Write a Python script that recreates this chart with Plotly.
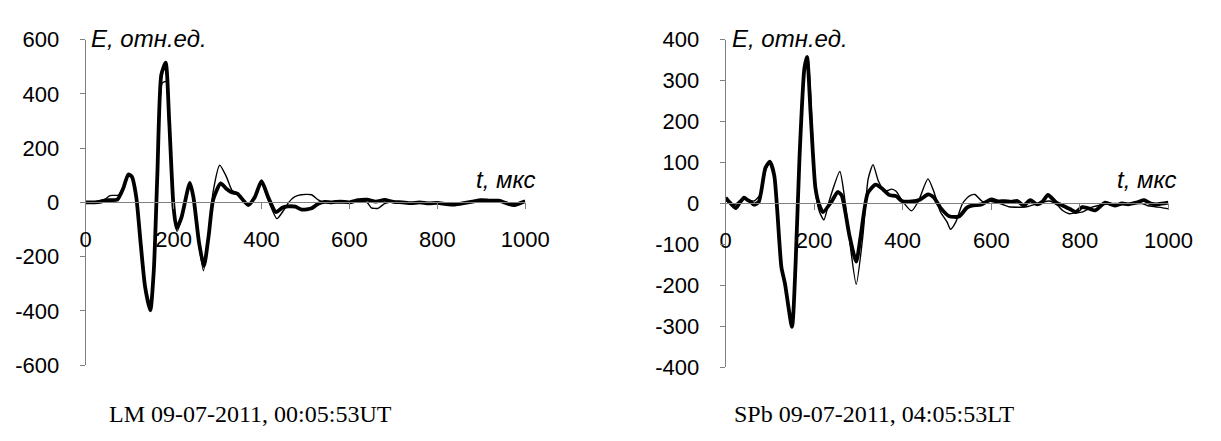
import plotly.graph_objects as go

# ---------------- data ----------------
# Left panel: LM 09-07-2011, 00:05:53UT
lm_thick_t = [0, 20, 35, 45, 60, 72, 85, 97, 105, 115, 125, 135, 147, 155, 163, 172, 182, 190, 200, 207,
              218, 237, 245, 258, 269, 280, 290, 307, 320, 332, 345, 370, 385, 400, 415, 433, 447, 460, 477,
              492, 514, 529, 544, 560, 580, 600, 620, 640, 660, 680, 700, 720, 740, 760, 780, 800, 820, 840,
              860, 880, 900, 920, 940, 960, 975, 990, 1000]
lm_thick_e = [0, 0, 3, 7, 8, 10, 50, 103, 95, 20, -150, -310, -398, -250, 100, 470, 515, 300, -20, -95,
              -55, 72, 20, -150, -235, -120, 10, 70, 50, 37, 32, -10, 20, 78, 20, -36, -20, -15, -16,
              -27, -22, -5, 2, 0, 3, 0, 8, 10, 3, 9, 2, 0, -3, 0, -4, -2, -6, -8,
              -3, 3, 8, 6, 6, -5, -10, -2, 4]

lm_thin_t = [0, 20, 35, 45, 55, 75, 85, 97, 105, 115, 125, 133, 147, 155, 163, 174, 183, 192, 200, 208,
             218, 237, 247, 258, 268, 280, 290, 305, 320, 333, 345, 370, 385, 400, 415, 435, 450, 462, 475,
             490, 514, 530, 545, 560, 580, 600, 620, 640, 650, 665, 680, 700, 720, 740, 760, 780, 800, 820,
             840, 860, 880, 900, 920, 940, 960, 975, 990, 1000]
lm_thin_e = [0, 2, 8, 12, 25, 27, 55, 100, 92, 15, -160, -292, -390, -240, 80, 440, 445, 230, -30, -107,
             -60, 70, 10, -160, -252, -110, 40, 137, 95, 44, 34, -8, 25, 75, 10, -60, -30, 0, 20,
             28, 28, 8, 0, 2, -2, 2, 5, 0, -20, -22, -5, 3, -2, -4, -2, 0, -3, -5,
             -5, 0, 2, 4, 5, 3, 0, -6, 0, 3]

# Right panel: SPb 09-07-2011, 04:05:53LT
spb_thick_t = [0, 10, 23, 32, 42, 50, 57, 64, 75, 90, 100, 110, 126, 134, 150, 158, 167, 178, 184, 192,
               203, 212, 220, 240, 253, 262, 280, 295, 305, 321, 339, 355, 369, 385, 398, 420, 440, 457,
               470, 485, 505, 527, 545, 556, 578, 600, 615, 630, 645, 659, 673, 688, 703, 716, 728, 747,
               769, 780, 791, 805, 820, 835, 857, 879, 895, 909, 930, 945, 960, 974, 990, 1000]
spb_thick_e = [14, 2, -11, 2, 14, 8, 4, -3, 4, 87, 102, 68, -155, -195, -301, -150, 114, 330, 358, 220,
               37, -5, -21, 6, 28, 20, -80, -142, -80, 25, 46, 35, 21, 18, 6, 5, 10, 22,
               15, -10, -31, -32, -10, -5, -2, 10, 5, 6, 4, 6, -5, 8, -2, 5, 21, 2,
               -9, -15, -21, -9, -12, -17, 2, -5, 0, -2, 3, 8, 0, -2, 0, 2]

spb_thin_t = [0, 10, 20, 30, 42, 55, 64, 79, 90, 100, 110, 126, 134, 150, 158, 167, 180, 186, 195, 203,
              212, 222, 235, 258, 268, 280, 295, 310, 322, 333, 345, 360, 375, 385, 400, 420, 435, 457,
              470, 485, 500, 508, 520, 535, 550, 563, 580, 600, 620, 640, 660, 680, 700, 715, 732, 750,
              761, 776, 790, 805, 827, 850, 880, 910, 940, 952, 970, 985, 1000]
spb_thin_e = [8, 0, -3, 5, 14, 8, 6, 23, 80, 100, 65, -160, -200, -295, -150, 110, 340, 358, 200, 30,
              -20, -40, 10, 78, 20, -90, -197, -80, 60, 95, 55, 30, 35, 30, 5, -18, 5, 60,
              30, -20, -45, -63, -45, 0, 18, 22, 5, 5, 0, -8, -9, -8, -2, 3, 6, -5,
              -17, -25, -23, -21, -9, -3, 0, -2, 0, -5, -8, -10, -13]

x_ticks = [0, 200, 400, 600, 800, 1000]
lm_y_ticks = [-600, -400, -200, 0, 200, 400, 600]
spb_y_ticks = [-400, -300, -200, -100, 0, 100, 200, 300, 400]

y_title = "E, отн.ед."
x_title = "t, мкс"
lm_caption = "LM 09-07-2011, 00:05:53UT"
spb_caption = "SPb 09-07-2011, 04:05:53LT"

# ---------------- layout geometry ----------------
W, H = 1221, 441


def fx(px):
    return px / W


def fy(py):
    return 1 - py / H


TICK_FONT = dict(family="Liberation Sans, Arial, sans-serif", size=22, color="#000000")
AXIS_COLOR = "#808080"

fig = go.Figure()

panels = [
    dict(xa="x", ya="y", xkey="xaxis", ykey="yaxis",
         xdom=[fx(81.7), fx(532.3)], ydom=[fy(374.3), fy(29.3)], yr=[-600, 600], yt=lm_y_ticks,
         thick=(lm_thick_t, lm_thick_e), thin=(lm_thin_t, lm_thin_e),
         ytitle_x=85, xtitle_x=480, caption_x=251, caption=lm_caption),
    dict(xa="x2", ya="y2", xkey="xaxis2", ykey="yaxis2",
         xdom=[fx(737.7), fx(1191.7)], ydom=[fy(376.7), fy(29.3)], yr=[-400, 400], yt=spb_y_ticks,
         thick=(spb_thick_t, spb_thick_e), thin=(spb_thin_t, spb_thin_e),
         ytitle_x=742, xtitle_x=1137, caption_x=890, caption=spb_caption),
]

for p in panels:
    fig.add_trace(go.Scatter(x=p["thin"][0], y=p["thin"][1], mode="lines",
                             line=dict(color="#000000", width=1.4, shape="spline", smoothing=0.6),
                             xaxis=p["xa"], yaxis=p["ya"], showlegend=False, hoverinfo="skip"))
    fig.add_trace(go.Scatter(x=p["thick"][0], y=p["thick"][1], mode="lines",
                             line=dict(color="#000000", width=3.8, shape="spline", smoothing=0.6),
                             xaxis=p["xa"], yaxis=p["ya"], showlegend=False, hoverinfo="skip"))

    y0, y1 = p["ydom"]
    r0, r1 = p["yr"]
    pos = y0 + (0 - r0) / (r1 - r0) * (y1 - y0)

    fig.layout[p["xkey"]] = dict(
        domain=p["xdom"], range=[0, 1000], anchor="free", position=pos,
        tickvals=x_ticks, ticktext=[str(v) for v in x_ticks],
        showline=True, linecolor=AXIS_COLOR, linewidth=1,
        ticks="outside", ticklen=6, tickcolor=AXIS_COLOR, tickwidth=1,
        showgrid=False, zeroline=False, tickfont=TICK_FONT, ticklabelstandoff=11,
        fixedrange=True,
    )
    fig.layout[p["ykey"]] = dict(
        domain=p["ydom"], range=p["yr"], anchor=p["xa"],
        tickvals=p["yt"], ticktext=[str(v) for v in p["yt"]],
        showline=True, linecolor=AXIS_COLOR, linewidth=1,
        ticks="outside", ticklen=5, tickcolor=AXIS_COLOR, tickwidth=1,
        showgrid=False, zeroline=False, tickfont=TICK_FONT, ticklabelstandoff=16,
        fixedrange=True,
    )

    fig.add_annotation(text=y_title, xref="paper", yref="paper", x=fx(p["ytitle_x"]), y=fy(28),
                       xanchor="left", yanchor="middle", showarrow=False,
                       font=dict(family="Liberation Sans, Arial, sans-serif", size=24,
                                 style="italic", color="#000000"))
    fig.add_annotation(text=x_title, xref="paper", yref="paper", x=fx(p["xtitle_x"]), y=fy(178),
                       xanchor="left", yanchor="middle", showarrow=False,
                       font=dict(family="Liberation Sans, Arial, sans-serif", size=24,
                                 style="italic", color="#000000"))
    fig.add_annotation(text=p["caption"], xref="paper", yref="paper", x=fx(p["caption_x"]), y=fy(426),
                       xanchor="center", yanchor="middle", showarrow=False,
                       font=dict(family="Liberation Serif, Times New Roman, serif", size=24,
                                 color="#000000"))

fig.update_layout(
    width=W, height=H, margin=dict(l=0, r=0, t=0, b=0),
    paper_bgcolor="#ffffff", plot_bgcolor="#ffffff",
    showlegend=False, hovermode=False,
)

fig.write_html("out.html", config={"displayModeBar": False, "staticPlot": True})
